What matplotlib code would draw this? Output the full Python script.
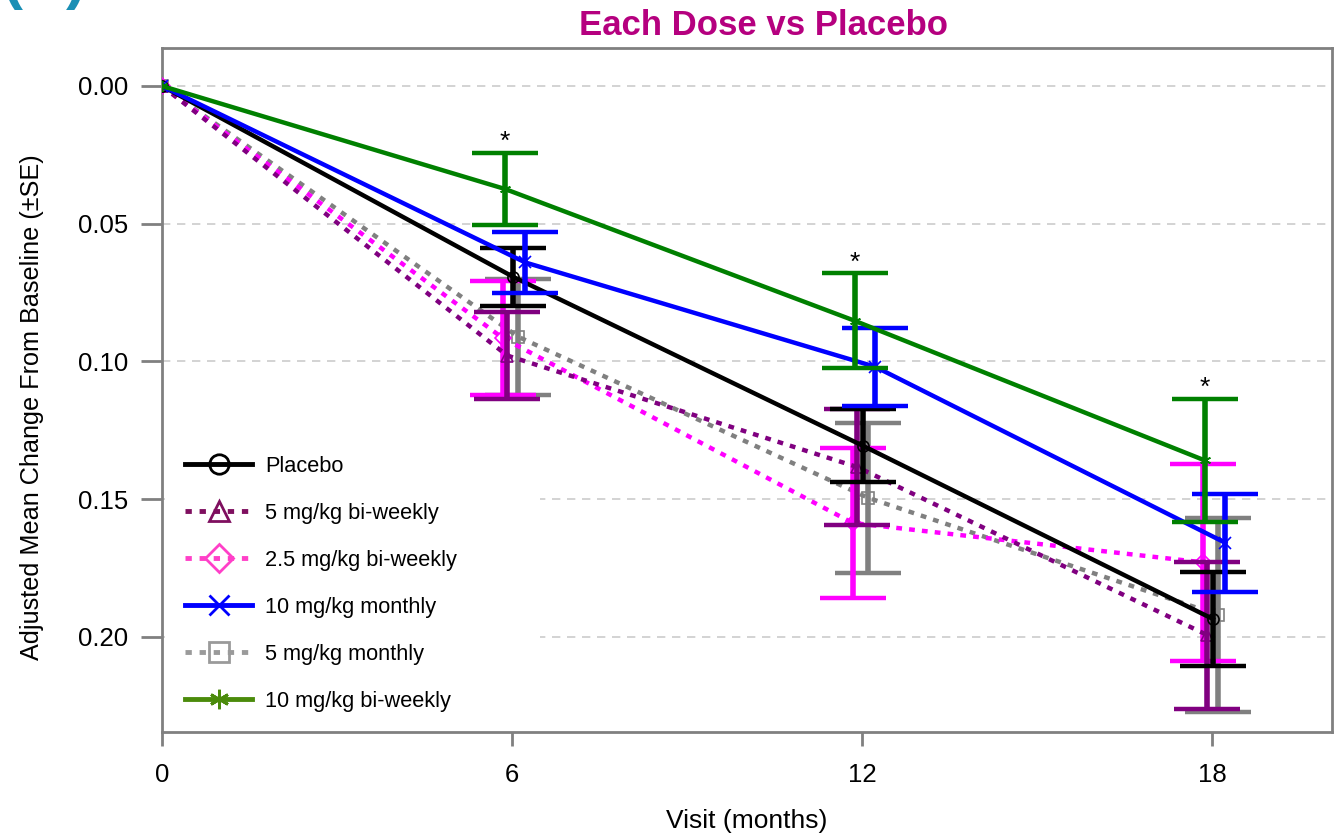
import matplotlib
matplotlib.use("Agg")
import matplotlib.pyplot as plt
from matplotlib.lines import Line2D
from matplotlib.patches import Rectangle

plt.rcParams["font.family"] = ["Liberation Sans", "DejaVu Sans"]

# visit months and adjusted mean change (+- SE) per arm
visits = [0, 6, 12, 18]
placebo = [0.0, 0.0693, 0.1307, 0.1936]
placebo_se = [0.0, 0.0106, 0.0133, 0.0170]
bw5 = [0.0, 0.0979, 0.1384, 0.1994]
bw5_se = [0.0, 0.0159, 0.0210, 0.0267]
bw25 = [0.0, 0.0915, 0.1587, 0.1730]
bw25_se = [0.0, 0.0208, 0.0274, 0.0357]
m10 = [0.0, 0.0641, 0.1020, 0.1659]
m10_se = [0.0, 0.0112, 0.0142, 0.0178]
m5 = [0.0, 0.0911, 0.1496, 0.1921]
m5_se = [0.0, 0.0211, 0.0272, 0.0351]
bw10 = [0.0, 0.0374, 0.0853, 0.1360]
bw10_se = [0.0, 0.0131, 0.0173, 0.0224]

labels = ["Placebo", "5 mg/kg bi-weekly", "2.5 mg/kg bi-weekly",
          "10 mg/kg monthly", "5 mg/kg monthly", "10 mg/kg bi-weekly"]
sig_visits = [6, 12, 18]  # 10 mg/kg bi-weekly vs placebo, marked with *

DOT = (0, (1.3, 1.6))
# label: (means, se, colour, legend colour, linestyle, marker, dodge in months, zorder)
arms = [
    (labels[4], m5, m5_se, "#808080", "#9a9a9a", DOT, "s", 0.11, 3),
    (labels[2], bw25, bw25_se, "#ff00ff", "#ff40c8", DOT, "D", -0.16, 4),
    (labels[1], bw5, bw5_se, "#800080", "#7f0f5f", DOT, "^", -0.08, 5),
    (labels[0], placebo, placebo_se, "#000000", "#000000", "-", "o", 0.02, 6),
    (labels[3], m10, m10_se, "#0000ff", "#0000ff", "-", "x", 0.23, 7),
    (labels[5], bw10, bw10_se, "#008000", "#4b8b0b", "-", (6, 2, 0), -0.12, 8),
]

fig = plt.figure(figsize=(13.35, 8.33), dpi=100)
ax = fig.add_axes([0.1213, 0.1213, 0.8765, 0.8211])

for name, vals, se, col, lcol, ls, mk, dx, z in arms:
    xs = [v + dx if v > 0 else v for v in visits]
    ax.plot(xs, vals, color=col, linestyle=ls, linewidth=3.2, marker=mk,
            markersize=8, markerfacecolor="none", markeredgewidth=1.2, zorder=z)
    ax.errorbar(xs[1:], vals[1:], yerr=se[1:], fmt="none", ecolor=col,
                elinewidth=4, capsize=24, capthick=3.2, zorder=z + 0.5)

# significance stars above the 10 mg/kg bi-weekly bars
for v in sig_visits:
    i = visits.index(v)
    ax.annotate("*", (v - 0.12, bw10[i] - bw10_se[i]), xytext=(0, -1),
                textcoords="offset points", ha="center", va="bottom",
                fontsize=19, zorder=10)

ax.set_xlim(0, 20.06)
ax.set_ylim(0.2346, -0.0138)
ax.set_xticks(visits)
ax.set_yticks([0.0, 0.05, 0.10, 0.15, 0.20])
ax.set_yticklabels(["0.00", "0.05", "0.10", "0.15", "0.20"])
ax.tick_params(axis="x", direction="out", length=10, width=2, color="#808080",
               labelsize=18.5, pad=12)
ax.tick_params(axis="y", direction="out", length=15, width=2, color="#808080",
               labelsize=18.5, pad=9)
ax.tick_params(top=False, right=False)
for s in ax.spines.values():
    s.set_color("#808080")
    s.set_linewidth(2)

ax.yaxis.grid(True, color="#cccccc", linestyle=(0, (5, 4)), linewidth=1.2)
ax.set_axisbelow(True)

ax.set_xlabel("Visit (months)", fontsize=19, labelpad=16)
ax.set_ylabel("Adjusted Mean Change From Baseline (\u00b1SE)", fontsize=18.2)
ax.yaxis.set_label_coords(-0.1009, 0.475)
ax.set_title("Each Dose vs Placebo", fontsize=25, fontweight="bold", color="#b5007f",
             pad=9, x=0.514)

# white panel behind the legend hides the gridlines there
ax.add_patch(Rectangle((0.003, 0.006), 0.32, 0.42, transform=ax.transAxes,
                       facecolor="white", edgecolor="none", zorder=1))

handles = []
order = [3, 2, 1, 4, 0, 5]
for k in order:
    name, vals, se, col, lcol, ls, mk, dx, z = arms[k]
    handles.append(Line2D([], [], color=lcol, linestyle=ls, linewidth=3.5, marker=mk,
                          markersize=14, markerfacecolor="none", markeredgewidth=2))
leg = ax.legend(handles, [arms[k][0] for k in order], loc="lower left",
                bbox_to_anchor=(0.003, 0.001), frameon=False, fontsize=15.7,
                handlelength=3.07, handletextpad=0.6, labelspacing=1.19)
leg.set_zorder(12)

fig.text(0.002, 1 + 2 / 833, "(B)", color="#1a8fb5", fontsize=43, fontweight="bold",
         ha="left", va="baseline")

fig.savefig("out.png", dpi=100)
